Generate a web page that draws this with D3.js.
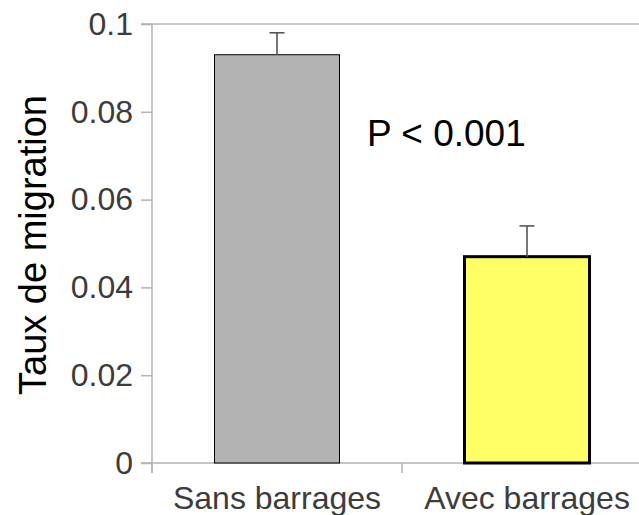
<!DOCTYPE html>
<html>
<head>
<meta charset="utf-8">
<script src="https://cdn.jsdelivr.net/npm/d3@7"></script>
<style>
  html, body { margin: 0; padding: 0; background: #fff; }
  svg { display: block; font-family: "Liberation Sans", Arial, sans-serif; }
</style>
</head>
<body>
<svg id="chart" width="639" height="515"></svg>
<script>
const categories = ["Sans barrages", "Avec barrages"];
const values = [0.093, 0.047];
const errors = [0.005, 0.007];
const fills = ["#b3b3b3", "#ffff66"];
const strokeWidths = [1, 3];
const yTicks = [0, 0.02, 0.04, 0.06, 0.08, 0.1];
const yTickLabels = ["0", "0.02", "0.04", "0.06", "0.08", "0.1"];
const yTitle = "Taux de migration";
const annotation = "P < 0.001";

(function () {
const svg = d3.select("#chart");
const mLeft = 152, mRight = 652, mTop = 24, mBottom = 463;
const axisColor = "#b3b3b3";

const x = d3.scaleBand().domain(categories).range([mLeft, mRight])
  .paddingInner(0.5).paddingOuter(0.25);
const xOuter = d3.scaleBand().domain(categories).range([mLeft, mRight]).padding(0);
const y = d3.scaleLinear().domain([0, 0.1]).range([mBottom, mTop]);

// top frame line
svg.append("line")
  .attr("x1", mLeft - 11).attr("x2", mRight)
  .attr("y1", y(0.1)).attr("y2", y(0.1))
  .attr("stroke", axisColor).attr("stroke-width", 1.5);

// y axis
const yAxis = svg.append("g")
  .attr("transform", `translate(${mLeft},0)`)
  .call(d3.axisLeft(y).tickValues(yTicks)
    .tickFormat((d, i) => yTickLabels[i]).tickSize(11).tickSizeOuter(0).tickPadding(8));
yAxis.select(".domain").remove();
yAxis.selectAll(".tick line").attr("stroke", axisColor).attr("stroke-width", 1.5);
yAxis.selectAll(".tick text").attr("fill", "#3c3c3c").attr("font-size", 32)
  .attr("font-family", "Liberation Sans, Arial, sans-serif");
svg.append("line")
  .attr("x1", mLeft).attr("x2", mLeft)
  .attr("y1", y(0.1)).attr("y2", mBottom + 10)
  .attr("stroke", axisColor).attr("stroke-width", 1.5);

// x axis line
svg.append("line")
  .attr("x1", mLeft - 11).attr("x2", mRight)
  .attr("y1", mBottom).attr("y2", mBottom)
  .attr("stroke", axisColor).attr("stroke-width", 1.5);
// category separator ticks
const sepPositions = categories.map(c => xOuter(c)).concat([xOuter(categories[categories.length - 1]) + xOuter.bandwidth()]);
svg.selectAll(".sep").data(sepPositions).enter().append("line")
  .attr("x1", d => d).attr("x2", d => d)
  .attr("y1", mBottom).attr("y2", mBottom + 10)
  .attr("stroke", axisColor).attr("stroke-width", 1.5);

// category labels
svg.selectAll(".cat").data(categories).enter().append("text")
  .attr("x", d => xOuter(d) + xOuter.bandwidth() / 2)
  .attr("y", 509)
  .attr("text-anchor", "middle")
  .attr("font-size", 32)
  .attr("fill", "#3c3c3c")
  .text(d => d);

// bars
svg.selectAll(".bar").data(categories).enter().append("rect")
  .attr("x", d => x(d))
  .attr("y", (d, i) => y(values[i]))
  .attr("width", x.bandwidth())
  .attr("height", (d, i) => y(0) - y(values[i]))
  .attr("fill", (d, i) => fills[i])
  .attr("stroke", "#000")
  .attr("stroke-width", (d, i) => strokeWidths[i]);

// error bars
const errG = svg.append("g").attr("stroke", "#555").attr("stroke-width", 1.6);
categories.forEach((c, i) => {
  const cx = x(c) + x.bandwidth() / 2;
  errG.append("line")
    .attr("x1", cx).attr("x2", cx)
    .attr("y1", y(values[i])).attr("y2", y(values[i] + errors[i]));
  errG.append("line")
    .attr("x1", cx - 7.5).attr("x2", cx + 7.5)
    .attr("y1", y(values[i] + errors[i])).attr("y2", y(values[i] + errors[i]));
});

// y title
svg.append("text")
  .attr("transform", `translate(46,245) rotate(-90)`)
  .attr("text-anchor", "middle")
  .attr("font-size", 38)
  .attr("fill", "#000")
  .text(yTitle);

// annotation
svg.append("text")
  .attr("x", 367).attr("y", 146)
  .attr("font-size", 37)
  .attr("fill", "#000")
  .text(annotation);
})();
</script>
</body>
</html>
